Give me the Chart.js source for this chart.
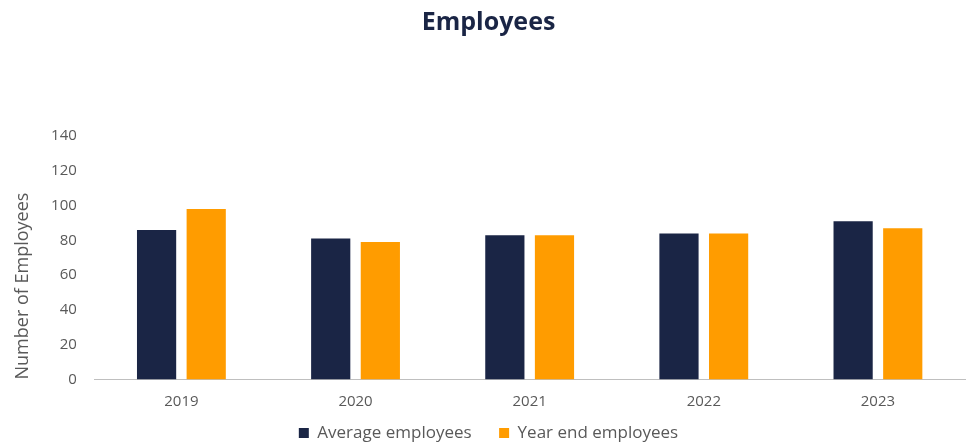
<!DOCTYPE html>
<html>
<head>
<meta charset="utf-8">
<script src="https://cdn.jsdelivr.net/npm/chart.js@4"></script>
<style>
  body { margin: 0; background: #fff; }
  #grafico { display: block; }
</style>
</head>
<body>
<canvas id="grafico" width="967" height="443"></canvas>
<script>
const anos = ["2019", "2020", "2021", "2022", "2023"];
const mediaFuncionarios = [86, 81, 83, 84, 91];
const funcionariosFimAno = [98, 79, 83, 84, 87];
const ticksY = [0, 20, 40, 60, 80, 100, 120, 140];

const fonte = "'Open Sans', 'Noto Sans', sans-serif";
const cinza = "#595959";

const ctx = document.getElementById("grafico").getContext("2d");

new Chart(ctx, {
    type: "bar",
    data: {
        labels: anos,
        datasets: [
            {
                label: "Average employees",
                data: mediaFuncionarios,
                backgroundColor: "#1a2545",
                borderWidth: 0,
                categoryPercentage: 0.57,
                barPercentage: 0.79
            },
            {
                label: "Year end employees",
                data: funcionariosFimAno,
                backgroundColor: "#ff9c00",
                borderWidth: 0,
                categoryPercentage: 0.57,
                barPercentage: 0.79
            }
        ]
    },
    options: {
        responsive: false,
        animation: false,
        layout: { padding: { left: 12, right: 2, top: 8, bottom: -8.5 } },
        plugins: {
            title: {
                display: true,
                text: "Employees",
                color: "#1a2545",
                font: { family: fonte, size: 25, weight: "bold" },
                padding: { top: 0, bottom: 98 }
            },
            legend: {
                position: "bottom",
                labels: {
                    color: cinza,
                    font: { family: fonte, size: 17 },
                    boxWidth: 10,
                    boxHeight: 10,
                    padding: 1,
                    // espaço extra entre os itens da legenda
                    generateLabels: chart => {
                        const itens = Chart.defaults.plugins.legend.labels.generateLabels(chart);
                        itens.forEach((item, i) => {
                            item.lineWidth = 0;
                            if (i < itens.length - 1) item.text = item.text + "      ";
                        });
                        return itens;
                    }
                }
            },
            tooltip: { enabled: false }
        },
        scales: {
            x: {
                grid: { display: false, drawTicks: false },
                border: { display: true, color: "#bfbfbf", width: 1 },
                ticks: { color: cinza, font: { family: fonte, size: 15 }, padding: 13 }
            },
            y: {
                min: 0,
                max: 140,
                afterBuildTicks: axis => { axis.ticks = ticksY.map(v => ({ value: v })); },
                grid: { display: false, drawTicks: false },
                border: { display: false },
                ticks: { color: cinza, font: { family: fonte, size: 15 }, padding: 17.5 },
                title: {
                    display: true,
                    text: "Number of Employees",
                    color: cinza,
                    align: "start",
                    font: { family: fonte, size: 18 },
                    padding: { top: 0, bottom: 0 }
                }
            }
        }
    }
});
</script>
</body>
</html>
